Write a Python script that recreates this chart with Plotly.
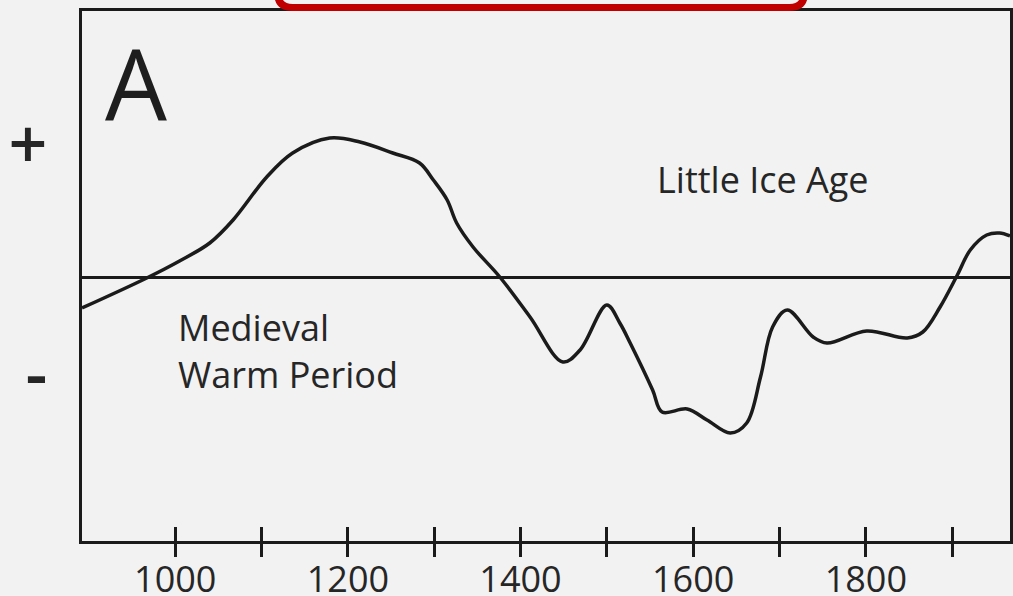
import plotly.graph_objects as go

# Reconstructed temperature anomaly curve (arbitrary units, 0 = reference line)
years = [892, 967, 1005, 1040, 1067, 1106, 1136, 1179, 1214, 1252, 1283, 1299,
         1315, 1326, 1345, 1376, 1411, 1449, 1469, 1500, 1515, 1527, 1553, 1564,
         1593, 1616, 1643, 1662, 1678, 1692, 1709, 1739, 1755, 1801, 1848, 1866,
         1886, 1906, 1921, 1940, 1955, 1967]
anomaly = [-0.155, -0.005, 0.08, 0.17, 0.285, 0.50, 0.62, 0.695, 0.675, 0.62, 0.57, 0.485,
           0.385, 0.27, 0.15, 0.0, -0.20, -0.425, -0.365, -0.14, -0.23, -0.33, -0.565, -0.675,
           -0.66, -0.715, -0.78, -0.73, -0.50, -0.25, -0.165, -0.30, -0.33, -0.27, -0.305, -0.275,
           -0.15, 0.01, 0.135, 0.21, 0.22, 0.205]

x_tick_vals = [1000, 1100, 1200, 1300, 1400, 1500, 1600, 1700, 1800, 1900]
x_tick_text = ["1000", "", "1200", "", "1400", "", "1600", "", "1800", ""]
y_tick_vals = [0.66, -0.485]
y_tick_text = ["+", "-"]

INK = "#1b1b1b"
TXT = "#262626"
BG = "#f2f2f2"
FONT = "Open Sans"

fig = go.Figure()
fig.add_trace(go.Scatter(x=years, y=anomaly, mode="lines",
                         line=dict(color=INK, width=3.5, shape="spline", smoothing=1.0),
                         hoverinfo="skip", showlegend=False))
fig.add_trace(go.Scatter(x=years, y=anomaly, mode="lines", xaxis="x2",
                         line=dict(color="rgba(0,0,0,0)", width=0),
                         hoverinfo="skip", showlegend=False))

fig.update_layout(
    width=1013, height=596,
    margin=dict(l=82, r=3, t=11, b=55),
    paper_bgcolor=BG, plot_bgcolor=BG,
    font=dict(family=FONT, color=TXT),
    xaxis=dict(range=[892, 1967], showgrid=False, zeroline=False, automargin=False,
               showline=True, linecolor=INK, linewidth=3, mirror=True,
               ticks="outside", ticklen=13, tickwidth=3, tickcolor=INK,
               tickvals=x_tick_vals, ticktext=x_tick_text,
               tickfont=dict(family=FONT, size=36, color=TXT, weight=500),
               ticklabelstandoff=-8),
    xaxis2=dict(overlaying="x", matches="x", anchor="y", side="bottom", automargin=False,
                showgrid=False, zeroline=False, showline=False,
                ticks="inside", ticklen=14, tickwidth=3, tickcolor=INK,
                tickvals=x_tick_vals, showticklabels=False),
    yaxis=dict(range=[-1.32, 1.33], showgrid=False, automargin=False,
               zeroline=True, zerolinecolor=INK, zerolinewidth=3,
               showline=True, linecolor=INK, linewidth=3, mirror=True,
               ticks="", tickvals=y_tick_vals, ticktext=y_tick_text,
               tickfont=dict(family=FONT, size=68, color=TXT, weight=600),
               ticklabelstandoff=18),
)

fig.add_annotation(x=955, y=0.975, text="A", showarrow=False,
                   font=dict(family=FONT, size=98, color="#1e1e1e", weight=500),
                   xanchor="center", yanchor="middle")
fig.add_annotation(x=1681, y=0.49, text="Little Ice Age", showarrow=False,
                   font=dict(family=FONT, size=36, color=TXT, weight=500),
                   xanchor="center", yanchor="middle")
fig.add_annotation(x=1001, y=-0.37, text="Medieval<br>Warm Period", showarrow=False,
                   align="left", font=dict(family=FONT, size=36, color=TXT, weight=500),
                   xanchor="left", yanchor="middle")

# red rounded highlight frame at the top edge of the page
x0, x1 = 0.2107, 0.7786
yb, yt = 1.0066, 1.2
dx, dy = 0.0162, 0.0283
path = (f"M {x0},{yt} L {x0},{yb+dy} Q {x0},{yb} {x0+dx},{yb} "
        f"L {x1-dx},{yb} Q {x1},{yb} {x1},{yb+dy} L {x1},{yt}")
fig.add_shape(type="path", path=path, xref="paper", yref="paper",
              line=dict(color="#c00000", width=7), layer="above")

fig.write_html("out.html",
               config={"displayModeBar": False},
               post_script="document.body.style.margin='0';"
                           "document.body.style.overflow='hidden';"
                           "document.body.style.background='#f2f2f2';")
